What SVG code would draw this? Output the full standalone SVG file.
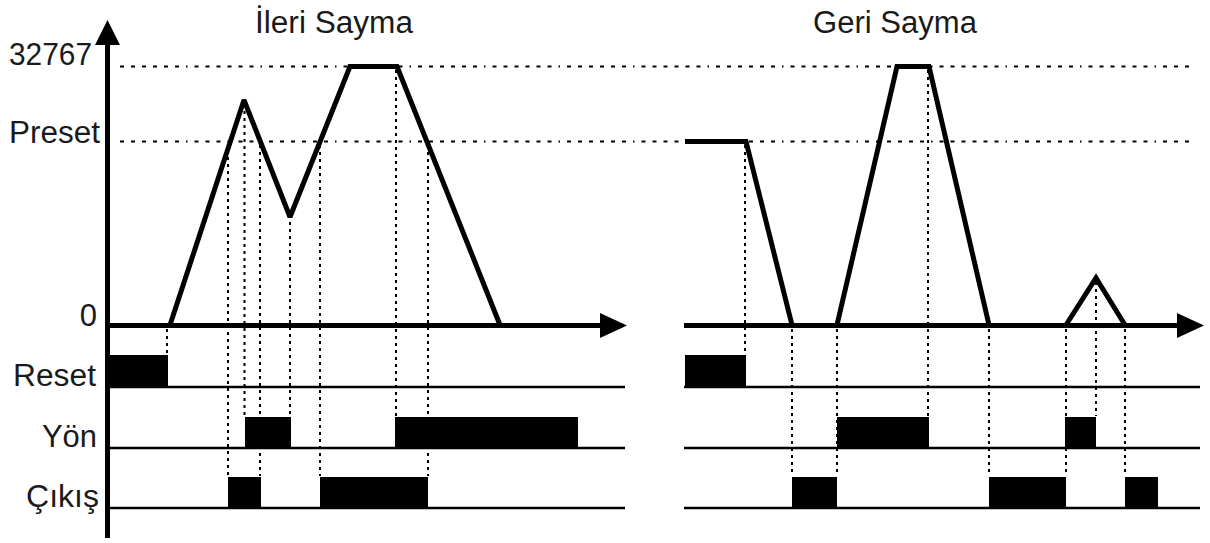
<svg xmlns="http://www.w3.org/2000/svg" width="1210" height="543" viewBox="0 0 1210 543">
<defs>
<style>
text{font-family:"Liberation Sans",Arial,sans-serif;fill:#1a1a1a;font-size:31px}
.lbl{text-anchor:end}
.wave{fill:none;stroke:#000;stroke-width:5;stroke-linejoin:miter;stroke-miterlimit:2}
.axis{stroke:#000;stroke-width:5;fill:none}
.base{stroke:#000;stroke-width:2.5;fill:none}
.lvl{stroke:#000;stroke-width:1.8;fill:none;stroke-dasharray:4,7,4,7,4,7,4,7,4,7,4,7,1.5,7}
.vd{stroke:#000;stroke-width:2;fill:none;stroke-dasharray:3,4}
.blk{fill:#000}
</style>
</defs>
<rect width="1210" height="543" fill="#fff"/>
<g id="titles">
<text x="255" y="33" textLength="158" lengthAdjust="spacingAndGlyphs">İleri Sayma</text>
<text x="813" y="33" textLength="164" lengthAdjust="spacingAndGlyphs">Geri Sayma</text>
</g>
<g id="labels">
<text class="lbl" x="92" y="65" textLength="83" lengthAdjust="spacingAndGlyphs">32767</text>
<text class="lbl" x="100" y="143" textLength="91" lengthAdjust="spacingAndGlyphs">Preset</text>
<text class="lbl" x="97" y="326">0</text>
<text class="lbl" x="96" y="386" textLength="83" lengthAdjust="spacingAndGlyphs">Reset</text>
<text class="lbl" x="97" y="447" textLength="55" lengthAdjust="spacingAndGlyphs">Yön</text>
<text class="lbl" x="99" y="507" textLength="73" lengthAdjust="spacingAndGlyphs">Çıkış</text>
</g>
<g id="levels">
<line class="lvl" x1="120" y1="66.5" x2="1196" y2="66.5"/>
<line class="lvl" x1="120" y1="141.5" x2="1196" y2="141.5"/>
</g>
<g id="axes">
<line class="axis" x1="107.5" y1="40" x2="107.5" y2="538"/>
<polygon points="107.5,20 95,45 120,45" fill="#000"/>
<line class="axis" x1="107" y1="325.5" x2="603" y2="325.5"/>
<polygon points="627,325.5 600,313 600,338" fill="#000"/>
<line class="axis" x1="684" y1="325.5" x2="1180" y2="325.5"/>
<polygon points="1204,325.5 1177,313 1177,338" fill="#000"/>
</g>
<g id="rows">
<line class="base" x1="108" y1="387" x2="625" y2="387"/>
<line class="base" x1="108" y1="448" x2="625" y2="448"/>
<line class="base" x1="108" y1="508" x2="625" y2="508"/>
<line class="base" x1="684" y1="387" x2="1200" y2="387"/>
<line class="base" x1="684" y1="448" x2="1200" y2="448"/>
<line class="base" x1="684" y1="508" x2="1200" y2="508"/>
</g>
<g id="connectors">
<line class="vd" x1="167" y1="329" x2="167" y2="354"/>
<line class="vd" x1="228" y1="150" x2="228" y2="476"/>
<line class="vd" x1="244.5" y1="104" x2="244.5" y2="416"/>
<line class="vd" x1="260" y1="145" x2="260" y2="476"/>
<line class="vd" x1="290" y1="222" x2="290" y2="416"/>
<line class="vd" x1="320" y1="145" x2="320" y2="476"/>
<line class="vd" x1="396" y1="70" x2="396" y2="416"/>
<line class="vd" x1="428" y1="145" x2="428" y2="476"/>
<line class="vd" x1="745" y1="145" x2="745" y2="354"/>
<line class="vd" x1="792" y1="329" x2="792" y2="476"/>
<line class="vd" x1="837" y1="329" x2="837" y2="476"/>
<line class="vd" x1="928" y1="70" x2="928" y2="416"/>
<line class="vd" x1="989" y1="329" x2="989" y2="476"/>
<line class="vd" x1="1066" y1="329" x2="1066" y2="476"/>
<line class="vd" x1="1096" y1="282" x2="1096" y2="416"/>
<line class="vd" x1="1125" y1="329" x2="1125" y2="476"/>
</g>
<g id="wave-ileri">
<polyline class="wave" points="170,325 244,100 290,217 350,66.5 397,66.5 500,325"/>
</g>
<g id="wave-geri">
<polyline class="wave" points="685,141.5 746,141.5 792,325"/>
<polyline class="wave" points="837,325 897,66.5 929,66.5 989,325"/>
<polyline class="wave" points="1066,325 1096,278 1125,325"/>
</g>
<g id="reset-blocks">
<rect class="blk" x="107" y="355" width="61" height="32"/>
<rect class="blk" x="685" y="355" width="61" height="32"/>
</g>
<g id="yon-blocks">
<rect class="blk" x="245" y="417" width="46" height="31"/>
<rect class="blk" x="395" y="417" width="183" height="31"/>
<rect class="blk" x="837" y="417" width="92" height="31"/>
<rect class="blk" x="1065" y="417" width="31" height="31"/>
</g>
<g id="cikis-blocks">
<rect class="blk" x="228" y="477" width="33" height="31"/>
<rect class="blk" x="320" y="477" width="108" height="31"/>
<rect class="blk" x="792" y="477" width="45" height="31"/>
<rect class="blk" x="989" y="477" width="77" height="31"/>
<rect class="blk" x="1125" y="477" width="33" height="31"/>
</g>
</svg>
